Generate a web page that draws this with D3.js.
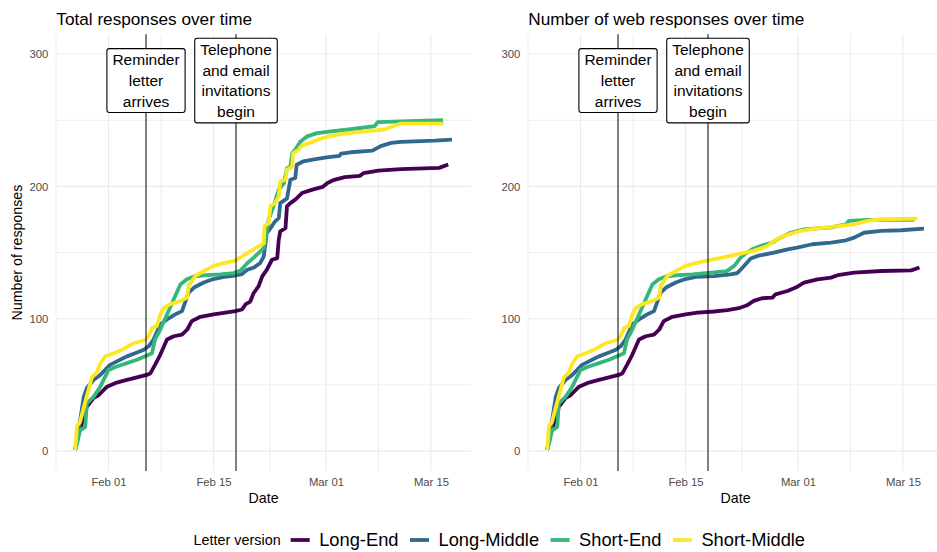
<!DOCTYPE html>
<html><head><meta charset="utf-8">
<script src="https://cdn.jsdelivr.net/npm/d3@7"></script>
<style>
body{margin:0;background:#fff;}
svg{display:block;font-family:"Liberation Sans",Arial,Helvetica,sans-serif;}
</style></head><body>
<svg id="chart" width="937" height="552"></svg>
<script>
// ---------- DATA (day offset from 2020-02-01, cumulative responses) ----------
const seriesNames = ["Long-End", "Long-Middle", "Short-End", "Short-Middle"];

const totalLongEnd = [[-4.45,1],[-4,13],[-3.1,28.4],[-2.9,33.5],[-2,40],[-1.3,42.4],[-0.2,48.7],[1.1,51.8],[2.45,53.8],[3.8,55.8],[5.1,57.6],[5.6,58.9],[6.2,65.2],[6.9,72.8],[7.8,84.3],[8.7,86.8],[9.8,88],[10.5,91.9],[11.1,98.2],[12.25,101.5],[14,103.3],[15.6,104.6],[16.9,105.8],[17.8,107],[18.3,111],[18.9,113],[19.35,119.4],[20,124.4],[20.5,132],[21.1,137],[21.8,144.6],[22.5,145.8],[22.7,159.7],[22.9,166],[23.6,168.5],[23.8,184.9],[24.25,187.4],[24.9,190],[25.8,195],[27.2,197.6],[28.55,199.6],[29.2,202.6],[30.1,205],[31.5,207],[33.5,208],[34,210],[36,212],[39,213],[44.1,214],[45.3,216.5]];
const totalLongMiddle = [[-4.45,1],[-4.2,8],[-3.3,41],[-2.9,47.5],[-2,53.8],[-1.1,57.6],[0.2,65.2],[1.55,69],[2.45,71.6],[3.55,74],[4.7,76.6],[5.35,79.2],[6,84.3],[6.9,95.7],[7.8,99.5],[8.9,103.3],[9.8,105.8],[10.2,112.2],[10.7,119.8],[11.4,123.6],[12.7,127.4],[14,130],[15.4,131.7],[16.7,132.5],[17.8,133.8],[18.5,137],[19.4,138.8],[20.2,142],[20.7,147],[21.1,164.7],[21.6,168.5],[22.2,173.5],[22.7,176],[22.9,187.4],[23.8,191],[24.25,205],[24.9,206.3],[25.1,216.4],[26,219],[27.4,220.5],[29.1,222],[30.8,223],[31,224.8],[32.3,225.8],[35.2,227],[36.3,230.4],[37.7,232.9],[39,233.6],[43.5,234.6],[45.8,235.4]];
const totalShortEnd = [[-4.45,1],[-4.2,5.6],[-3.8,15.7],[-3.1,18.3],[-2.9,36],[-2,41],[-1.1,48.7],[0,61.4],[1.1,64],[2.45,66.5],[3.8,69],[5.35,72.8],[5.8,74],[6.2,84.3],[6.9,91.9],[7.8,103.3],[8.7,114.7],[9.6,126.1],[10.5,130],[11.4,132],[13.1,133],[14.9,133.5],[16.7,134.5],[17.6,136.5],[18.5,142],[19.4,146.4],[20,149.6],[20.7,153.4],[21.35,174.8],[22,184.9],[22.7,197.5],[23.4,202.5],[23.8,213.8],[24.25,215],[24.5,225],[24.9,227.7],[25.6,234],[26.5,237.8],[27.8,240.3],[30,241.8],[32.3,243.2],[35.5,245.5],[35.9,248.5],[39,249.2],[44.6,250]];
const totalShortMiddle = [[-4.45,1],[-4.2,19],[-3.8,22],[-3.3,33],[-2.2,56],[-1.6,59],[-1.1,66],[-0.45,71.5],[0.7,74],[1.8,76.5],[2.7,79.5],[3.3,81.5],[4.9,84],[5.35,87],[5.8,93],[6.45,94.5],[6.9,103],[7.35,108],[8.2,111],[9.6,113.5],[10.5,116],[10.7,125],[11.6,132.5],[12.7,136],[14,140],[15.4,142],[16.9,144],[17.8,147],[18.9,151],[20,154.7],[20.7,157],[20.8,169.8],[21.35,172.3],[21.6,185],[22.2,187.4],[22.7,192.4],[22.9,203.8],[23.6,205],[23.8,212.6],[24.5,215],[24.6,225],[25.35,227.7],[25.6,230],[26.3,232],[26.9,233],[28,235.5],[29.1,237.5],[30.9,239.5],[32.3,240.5],[34.6,241.7],[36.8,243],[37.9,245.5],[39,247.5],[44.7,247.5]];

const webLongEnd = [[-4.45,1],[-4,13],[-3.1,28.4],[-2.9,33.5],[-2,40],[-1.3,42.4],[-0.2,48.7],[1.1,51.8],[2.45,53.8],[3.8,55.8],[5.1,57.6],[5.6,58.9],[6.2,65.2],[6.9,72.8],[7.8,84.3],[8.7,86.8],[9.8,88],[10.5,91.9],[11.1,98.2],[12.25,101.5],[14,103.3],[15.6,104.6],[17.8,105.5],[19.6,106.5],[21.1,108],[22.2,110.2],[23.1,113.5],[24.2,115.5],[25.6,116],[26,118.5],[27.6,121],[28.7,123.6],[29.8,127.3],[31.6,129.8],[33.4,131.1],[34.3,132.9],[36.5,134.9],[40.1,136.1],[44.1,136.6],[45.2,138.7]];
const webLongMiddle = [[-4.45,1],[-4.2,8],[-3.3,41],[-2.9,47.5],[-2,53.8],[-1.1,57.6],[0.2,65.2],[1.55,69],[2.45,71.6],[3.55,74],[4.7,76.6],[5.35,79.2],[6,84.3],[6.9,95.7],[7.8,99.5],[8.9,103.3],[9.8,105.8],[10.2,112.2],[10.7,119.8],[11.4,123.6],[12.7,127.4],[14,130],[15.4,131.7],[17.8,132.2],[20,133.5],[20.9,134.5],[21.5,138],[22.7,145.5],[23.6,147.5],[25.8,150],[27.6,152.5],[28.9,153.8],[30.9,156.3],[33.4,157.6],[35.4,159.3],[36.5,161.3],[37.8,165],[40.1,166.4],[42.7,166.9],[45.8,168.1]];
const webShortEnd = [[-4.45,1],[-4.2,5.6],[-3.8,15.7],[-3.1,18.3],[-2.9,36],[-2,41],[-1.1,48.7],[0,61.4],[1.1,64],[2.45,66.5],[3.8,69],[5.35,72.8],[5.8,74],[6.2,84.3],[6.9,91.9],[7.8,103.3],[8.7,114.7],[9.6,126.1],[10.5,130],[11.4,132],[13.1,133],[14.9,133.5],[16.7,134.5],[17.8,135],[19.5,136],[20.5,140],[21.35,146.2],[22.2,150],[22.9,152.5],[24,155],[25.6,157.6],[26.25,160],[28,165],[29.8,167.6],[33.4,169],[35.4,171.4],[35.8,174],[38.3,174.7],[44.5,174.7]];
const webShortMiddle = [[-4.45,1],[-4.2,19],[-3.8,22],[-3.3,33],[-2.2,56],[-1.6,59],[-1.1,66],[-0.45,71.5],[0.7,74],[1.8,76.5],[2.7,79.5],[3.3,81.5],[4.9,84],[5.35,87],[5.8,93],[6.45,94.5],[6.9,103],[7.35,108],[8.2,111],[9.6,113.5],[10.5,116],[10.7,125],[11.6,132.5],[12.7,136],[14,140],[15.4,142],[16.9,144],[18.9,146.2],[20.9,148.7],[23.1,151.3],[24.9,155],[25.8,158.8],[27.1,162.6],[29.4,166.4],[31.1,168],[34.3,170],[36.5,171.4],[38.3,174],[40.1,175.2],[44.9,175.7]];

const xMajorTicks = ["2020-02-01", "2020-02-15", "2020-03-01", "2020-03-15"];
const xMinorTicks = ["2020-01-25T00:00", "2020-02-08T00:00", "2020-02-22T12:00", "2020-03-08T00:00"];
const yMajorTicks = [0, 100, 200, 300];
const yMinorTicks = [50, 150, 250];
const yLimits = [0, 300];
const eventDates = ["2020-02-06", "2020-02-18"];
const eventLabels = [["Reminder", "letter", "arrives"], ["Telephone", "and email", "invitations", "begin"]];
const eventLabelY = 280;
const panelTitles = ["Total responses over time", "Number of web responses over time"];

// ---------- STYLE ----------
const colors = ["#440154", "#31688E", "#35B779", "#FDE725"];
const FONT_AXIS = 11.3, FONT_TITLE = 17.2, FONT_AXTITLE = 14.2, FONT_LABEL = 15.5;
const panelTop = 34.2, panelBottom = 471, panelWidth = 414.5;
const panelLefts = [56.3, 528.3];

const parse = s => new Date(s.length > 10 ? s : s + "T00:00");
const dayZero = parse("2020-02-01");
const toDate = d => new Date(dayZero.getTime() + d * 864e5);

const panels = [
  { title: panelTitles[0], series: [totalLongEnd, totalLongMiddle, totalShortEnd, totalShortMiddle], yTitle: true },
  { title: panelTitles[1], series: [webLongEnd, webLongMiddle, webShortEnd, webShortMiddle], yTitle: false }
];

const allDays = panels.flatMap(p => p.series.flatMap(s => s.map(d => d[0])));
const [dmin, dmax] = d3.extent(allDays);
const dpad = (dmax - dmin) * 0.05;
const ypad = (yLimits[1] - yLimits[0]) * 0.05;

const svg = d3.select("#chart");
svg.append("rect").attr("width", 937).attr("height", 552).attr("fill", "#fff");

panels.forEach((p, pi) => {
  const left = panelLefts[pi];
  const x = d3.scaleTime().domain([toDate(dmin - dpad), toDate(dmax + dpad)]).range([left, left + panelWidth]);
  const y = d3.scaleLinear().domain([yLimits[0] - ypad, yLimits[1] + ypad]).range([panelBottom, panelTop]);
  const g = svg.append("g");

  // grid
  const grid = g.append("g").attr("stroke", "#EBEBEB").attr("fill", "none");
  grid.selectAll(".ymin").data(yMinorTicks).join("line")
    .attr("x1", left).attr("x2", left + panelWidth).attr("y1", d => y(d)).attr("y2", d => y(d)).attr("stroke-width", 0.9);
  grid.selectAll(".xmin").data(xMinorTicks.map(parse)).join("line")
    .attr("y1", panelTop).attr("y2", panelBottom).attr("x1", d => x(d)).attr("x2", d => x(d)).attr("stroke-width", 0.9);
  grid.selectAll(".ymaj").data(yMajorTicks).join("line")
    .attr("x1", left).attr("x2", left + panelWidth).attr("y1", d => y(d)).attr("y2", d => y(d)).attr("stroke-width", 1.1);
  grid.selectAll(".xmaj").data(xMajorTicks.map(parse)).join("line")
    .attr("y1", panelTop).attr("y2", panelBottom).attr("x1", d => x(d)).attr("x2", d => x(d)).attr("stroke-width", 1.1);

  // lines
  const line = d3.line().x(d => x(toDate(d[0]))).y(d => y(d[1]));
  p.series.forEach((s, si) => {
    g.append("path").datum(s).attr("d", line).attr("fill", "none")
      .attr("stroke", colors[si]).attr("stroke-width", 3.8)
      .attr("stroke-linejoin", "round").attr("stroke-linecap", "butt");
  });

  // event lines
  eventDates.map(parse).forEach(d => {
    g.append("line").attr("x1", x(d)).attr("x2", x(d)).attr("y1", panelTop).attr("y2", panelBottom)
      .attr("stroke", "#000").attr("stroke-width", 1);
  });

  // event labels
  const lh = 20.8;
  eventDates.map(parse).forEach((d, ei) => {
    const lines = eventLabels[ei];
    const lg = g.append("g").attr("transform", `translate(${x(d)},${y(eventLabelY)})`);
    const rect = lg.append("rect");
    const t = lg.append("text").attr("text-anchor", "middle").attr("font-size", FONT_LABEL).attr("fill", "#000");
    lines.forEach((l, i) => {
      t.append("tspan").attr("x", 0).attr("y", (i - (lines.length - 1) / 2) * lh).attr("dy", "0.36em").text(l);
    });
    const bb = t.node().getBBox();
    const w = bb.width + 11, h = lines.length * lh + 1.5;
    rect.attr("x", -w / 2).attr("y", -h / 2).attr("width", w).attr("height", h)
      .attr("rx", 2.5).attr("fill", "#fff").attr("stroke", "#000").attr("stroke-width", 1.1);
  });

  // axes
  const xAxis = g.append("g").attr("transform", `translate(0,${panelBottom})`)
    .call(d3.axisBottom(x).tickValues(xMajorTicks.map(parse)).tickFormat(d3.timeFormat("%b %d")).tickSize(0).tickPadding(7));
  const yAxis = g.append("g").attr("transform", `translate(${left},0)`)
    .call(d3.axisLeft(y).tickValues(yMajorTicks).tickSize(0).tickPadding(8));
  [xAxis, yAxis].forEach(a => {
    a.select(".domain").remove();
    a.selectAll("text").attr("font-size", FONT_AXIS).attr("fill", "#4D4D4D")
      .attr("font-family", '"Liberation Sans",Arial,sans-serif');
  });

  // titles
  g.append("text").attr("x", left).attr("y", 24.5).attr("font-size", FONT_TITLE).attr("fill", "#000").text(p.title);
  g.append("text").attr("x", left + panelWidth / 2).attr("y", 503).attr("text-anchor", "middle")
    .attr("font-size", FONT_AXTITLE).attr("fill", "#000").text("Date");
  if (p.yTitle) {
    g.append("text").attr("transform", `translate(22,${(panelTop + panelBottom) / 2}) rotate(-90)`)
      .attr("text-anchor", "middle").attr("font-size", FONT_AXTITLE).attr("fill", "#000").text("Number of responses");
  }
});

// legend
const legY = 540;
const leg = svg.append("g");
const lt = leg.append("text").attr("x", 193.5).attr("y", legY).attr("dy", "0.35em")
  .attr("font-size", 14.4).attr("fill", "#000").text("Letter version");
let cx = 193.5 + lt.node().getComputedTextLength() + 10;
seriesNames.forEach((n, i) => {
  leg.append("line").attr("x1", cx).attr("x2", cx + 19).attr("y1", legY).attr("y2", legY)
    .attr("stroke", colors[i]).attr("stroke-width", 3.8);
  cx += 19 + 9.5;
  const tt = leg.append("text").attr("x", cx).attr("y", legY).attr("dy", "0.35em")
    .attr("font-size", 18.3).attr("fill", "#000").text(n);
  cx += tt.node().getComputedTextLength() + 11.5;
});
</script>
</body></html>
